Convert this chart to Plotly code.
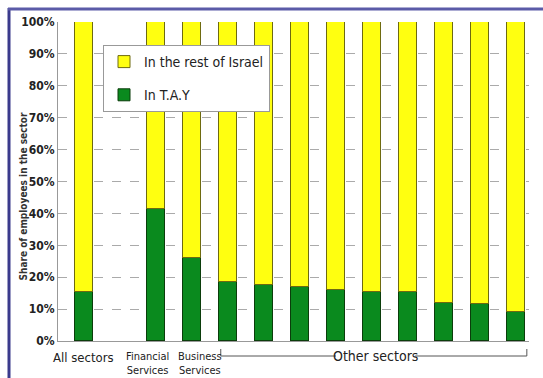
import plotly.graph_objects as go

# Share of employment located in T.A.Y vs. the rest of Israel, by sector
positions = [0, 2, 3, 4, 5, 6, 7, 8, 9, 10, 11, 12]
tay_share = [15.5, 41.5, 26, 18.5, 17.5, 17, 16, 15.5, 15.5, 12, 11.5, 9]
rest_share = [100 - v for v in tay_share]

label_positions = [0, 2, 3]
label_texts = ["All sectors", "Financial<br>Services", "Business<br>Services"]
y_ticks = [0, 10, 20, 30, 40, 50, 60, 70, 80, 90, 100]

FONT = "DejaVu Sans Condensed, Liberation Sans Narrow, Arial Narrow, sans-serif"

fig = go.Figure()
fig.add_trace(go.Bar(
    x=positions, y=tay_share, name="In T.A.Y", legendgroup="tay",
    legendrank=2,
    marker=dict(color="#0a8a1e", line=dict(color="#0b3d0b", width=1)),
    width=0.5,
))
fig.add_trace(go.Bar(
    x=positions, y=rest_share, name="In the rest of Israel", legendgroup="rest",
    legendrank=1,
    marker=dict(color="#ffff10", line=dict(color="#6e6a10", width=1)),
    width=0.5,
))

W, H = 543, 378
L, R, T, B = 58, 14, 22, 37
pw, ph = W - L - R, H - T - B


def px_x(p):
    return (p - L) / pw


def px_y(p):
    return (H - B - p) / ph


shapes = []
# dark frame along the left and top edges
shapes.append(dict(type="line", xref="paper", yref="paper",
                   x0=px_x(9), x1=px_x(9), y0=px_y(380), y1=px_y(8),
                   line=dict(color="#3a3a8c", width=3)))
shapes.append(dict(type="line", xref="paper", yref="paper",
                   x0=px_x(8), x1=px_x(545), y0=px_y(9), y1=px_y(9),
                   line=dict(color="#5b5ba8", width=3)))

# bracket spanning the "Other sectors" group
by = px_y(356)
bt = px_y(349)
for x0, x1 in [(3.8, 7.0), (9.2, 12.3)]:
    shapes.append(dict(type="line", xref="x", yref="paper", x0=x0, x1=x1,
                       y0=by, y1=by, line=dict(color="#555", width=1)))
for xe in (3.8, 12.3):
    shapes.append(dict(type="line", xref="x", yref="paper", x0=xe, x1=xe,
                       y0=by, y1=bt, line=dict(color="#555", width=1)))

annotations = [
    dict(text="Other sectors", x=8.1, xref="x", y=by, yref="paper",
         showarrow=False, xanchor="center", yanchor="middle",
         font=dict(family=FONT, size=14, color="#222")),
    dict(text="<b>Share of employees in the sector</b>", x=px_x(15), y=px_y(197),
         xref="paper", yref="paper", textangle=-90, showarrow=False,
         font=dict(family=FONT, size=10, color="#333")),
    dict(text=label_texts[0], x=label_positions[0], xref="x", y=px_y(348),
         yref="paper", showarrow=False, xanchor="center", yanchor="top",
         font=dict(family=FONT, size=13, color="#222")),
    # the two neighbouring two-line labels lean away from each other
    dict(text=label_texts[1], x=label_positions[1] + 0.43, xref="x",
         y=px_y(348), yref="paper", showarrow=False, xanchor="right",
         yanchor="top", align="center", font=dict(family=FONT, size=11, color="#222")),
    dict(text=label_texts[2], x=label_positions[2] - 0.45, xref="x",
         y=px_y(348), yref="paper", showarrow=False, xanchor="left",
         yanchor="top", align="center", font=dict(family=FONT, size=11, color="#222")),
]

fig.update_layout(
    width=W, height=H,
    margin=dict(l=L, r=R, t=T, b=B, autoexpand=False),
    paper_bgcolor="white", plot_bgcolor="white",
    barmode="stack",
    bargap=0,
    showlegend=True,
    legend=dict(
        x=px_x(103), y=px_y(45), xanchor="left", yanchor="top",
        bgcolor="white", bordercolor="#999", borderwidth=1,
        traceorder="grouped", tracegroupgap=12,
        font=dict(family=FONT, size=14, color="#222"),
        itemwidth=30,
    ),
    xaxis=dict(
        range=[-0.72, 12.36],
        showticklabels=False,
        showgrid=False, zeroline=False, ticks="",
        showline=True, linecolor="#999", linewidth=1,
    ),
    yaxis=dict(
        range=[0, 100],
        tickmode="array", tickvals=y_ticks,
        ticktext=[f"<b>{v}%</b>" for v in y_ticks],
        tickfont=dict(family=FONT, size=12, color="#222"),
        showgrid=True, gridcolor="#aaa", griddash="dash", gridwidth=1,
        zeroline=False, showline=True, linecolor="#999", linewidth=1,
        ticks="",
    ),
    shapes=shapes,
    annotations=annotations,
)

fig.write_html("out.html")
